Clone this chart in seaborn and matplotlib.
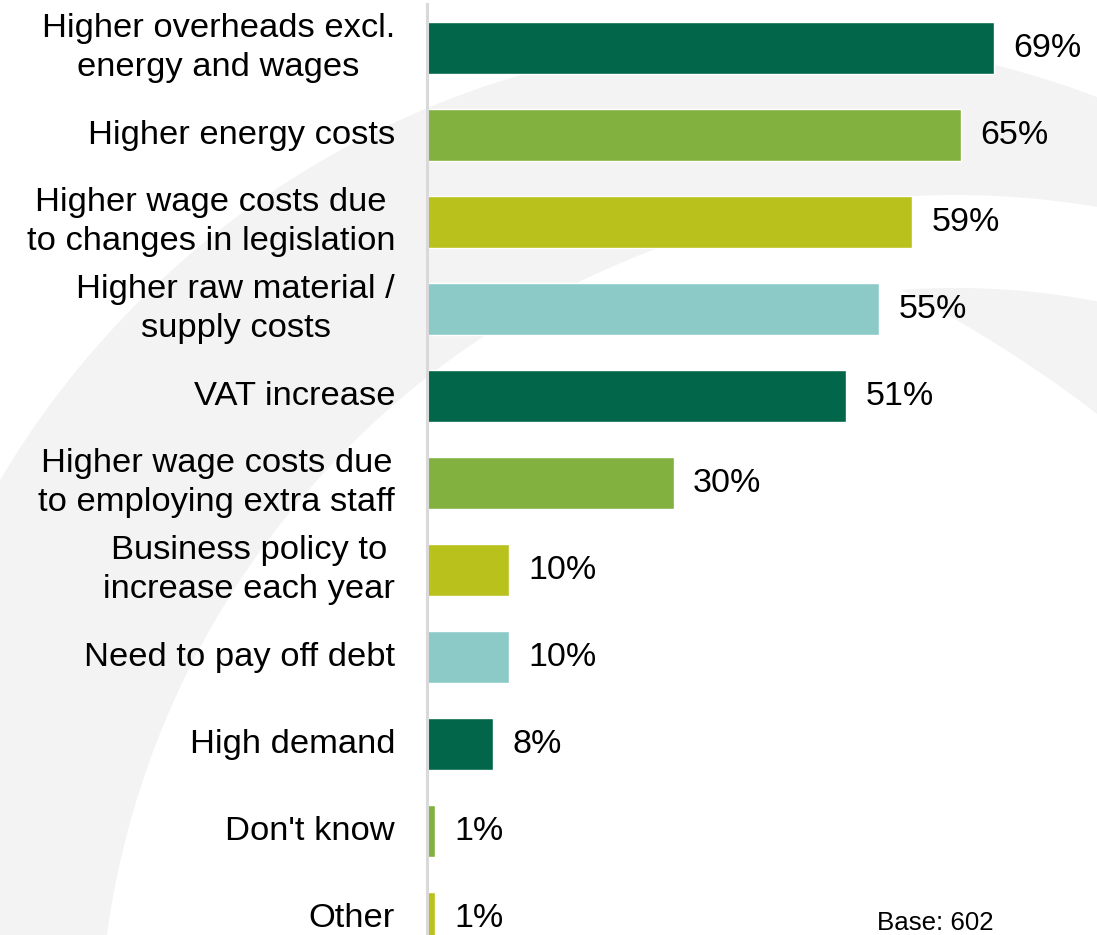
import matplotlib
matplotlib.use("Agg")
import matplotlib.pyplot as plt
import matplotlib.patches as mpatches
import seaborn as sns
import pandas as pd
import numpy as np

# ---- data ----
categories = [
    "Higher overheads excl.\nenergy and wages",
    "Higher energy costs",
    "Higher wage costs due\nto changes in legislation",
    "Higher raw material /\nsupply costs",
    "VAT increase",
    "Higher wage costs due\nto employing extra staff",
    "Business policy to\nincrease each year",
    "Need to pay off debt",
    "High demand",
    "Don't know",
    "Other",
]
values = [69, 65, 59, 55, 51, 30, 10, 10, 8, 1, 1]
bar_colors = ["#02664A", "#82B140", "#B9C11D", "#8CCAC8",
              "#02664A", "#82B140", "#B9C11D", "#8CCAC8",
              "#02664A", "#82B140", "#B9C11D"]
base_note = "Base: 602"

sns.set_theme(style="white")
plt.rcParams["font.family"] = ["Liberation Sans", "DejaVu Sans"]

W, H = 1097, 935
fig = plt.figure(figsize=(W / 100, H / 100), dpi=100)
fig.patch.set_facecolor("white")

# ---- decorative background arcs (pixel coordinates, y down) ----
bg = fig.add_axes([0, 0, 1, 1], zorder=-5)
bg.set_xlim(0, W)
bg.set_ylim(H, 0)
bg.axis("off")
grey = "#F3F3F3"
bg.add_patch(mpatches.Circle((776, 940), 902, color=grey, lw=0))
bg.add_patch(mpatches.Circle((955, 1051), 856, color="white", lw=0))

# second thin band on the right: inside circle A, outside circle B
cxA, cyA, RA = 955, 1051, 763
cxB, cyB, RB = 304, 1449, 1304
xs = np.linspace(850, W + 5, 600)
yA = cyA - np.sqrt(RA**2 - (xs - cxA) ** 2)
yB = cyB - np.sqrt(RB**2 - (xs - cxB) ** 2)
mask = yB > yA
xb = xs[mask]
poly = np.vstack([np.column_stack([xb, yA[mask]]),
                  np.column_stack([xb[::-1], yB[mask][::-1]])])
bg.add_patch(mpatches.Polygon(poly, closed=True, color=grey, lw=0))

# ---- main chart ----
x0_px = 427
ax = fig.add_axes([x0_px / W, 0, (W - x0_px) / W, (H - 4.5) / H])
ax.set_facecolor("none")

df = pd.DataFrame({"cat": categories, "val": values})
sns.barplot(data=df, x="val", y="cat", hue="cat", palette=bar_colors,
            legend=False, width=0.6, orient="h", saturation=1, ax=ax)

ax.set_xlim(0, (W - x0_px) / 8.22)
ax.set_ylim(10.195, -0.5)

for cont in ax.containers:
    ax.bar_label(cont, fmt="%d%%", padding=14, fontsize=24.5, color="black")

ax.set_xlabel("")
ax.set_ylabel("")
ax.set_xticks([])
ax.tick_params(axis="y", length=0, pad=23, labelsize=24.8, labelcolor="black")
for lbl in ax.get_yticklabels():
    lbl.set_multialignment("center")
    lbl.set_verticalalignment("center")
    lbl.set_linespacing(1.33)

for s in ["top", "right", "bottom"]:
    ax.spines[s].set_visible(False)
ax.spines["left"].set_color("#D9D9D9")
ax.spines["left"].set_linewidth(2.2)
ax.spines["left"].set_zorder(5)

fig.text(877 / W, 1 - 930 / H, base_note, fontsize=18.6, ha="left",
         va="baseline", color="black")

fig.savefig("out.png", dpi=100)
